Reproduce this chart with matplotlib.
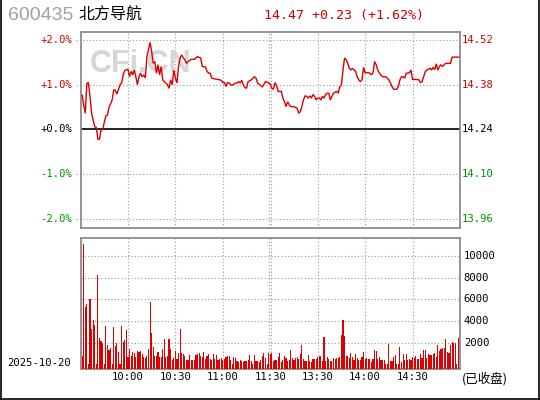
import matplotlib
matplotlib.use("Agg")
import matplotlib.pyplot as plt
from matplotlib.lines import Line2D
import numpy as np

plt.rcParams['font.family'] = ['DejaVu Sans', 'Noto Sans CJK SC']

# ---------------- data ----------------
code = "600435"
name = "北方导航"
prev_close = 14.24
last_price = 14.47
change = 0.23
change_pct = 1.62
date_label = "2025-10-20"
status_label = "(已收盘)"

pct_ticks = [2.0, 1.0, 0.0, -1.0, -2.0]
price_ticks = [14.52, 14.38, 14.24, 14.10, 13.96]
vol_ticks = [10000, 8000, 6000, 4000, 2000]
time_ticks = [30, 60, 90, 120, 150, 180, 210]
time_labels = ["10:00", "10:30", "11:00", "11:30", "13:30", "14:00", "14:30"]

line_minutes = [1, 2, 3, 4, 5, 6, 7, 8, 9, 10, 11, 12, 13, 14, 15, 16, 17, 18, 19, 20,
                21, 22, 23, 24, 25, 26, 27, 28, 30, 31, 32, 33, 34, 35, 36, 37, 38, 39, 40,
                41, 42, 44, 45, 46, 47, 48, 49, 50, 51, 52, 53, 55, 56, 57, 58, 59, 60,
                61, 62, 63, 64, 65, 66, 67, 68, 70, 72, 74, 76, 77, 79, 80, 81, 82, 83,
                85, 87, 89, 90, 91, 92, 93, 94, 95, 96, 98, 99, 100, 101, 102, 103, 104,
                105, 106, 108, 110, 111, 112, 115, 117, 119, 120,
                121, 122, 123, 124, 125, 127, 128, 129, 130, 131, 132, 133, 135, 137, 138,
                139, 140, 141, 142, 143, 144, 145, 146, 147, 148, 149, 150, 151, 152, 153,
                154, 155, 156, 157, 158, 159, 160, 162, 163, 164, 165, 166, 167, 168, 169,
                170, 171, 172, 173, 174, 175, 176, 177, 178, 179, 180, 182, 183, 184, 185,
                186, 187, 188, 189, 190, 191, 193, 194, 195, 196, 197, 198, 200, 201, 202,
                203, 204, 205, 206, 207, 208, 209, 210, 212, 214, 215, 216, 217, 218, 219,
                221, 222, 223, 224, 225, 226, 227, 228, 229, 230, 231, 234, 235, 239]
line_pct = [0.77, 0.55, 0.36, 1.03, 1.05, 0.73, 0.36, 0.21, 0.06, 0.04, -0.22, -0.22, -0.02,
            0.00, 0.15, 0.30, 0.32, 0.49, 0.57, 0.66,
            0.88, 0.88, 0.79, 0.89, 1.00, 1.04, 1.22, 1.32, 1.35, 1.18, 1.30, 1.22, 1.33, 1.18,
            1.00, 1.18, 1.26, 1.18, 1.22,
            1.15, 1.63, 1.95, 1.74, 1.48, 1.52, 1.26, 1.45, 1.22, 1.41, 1.11, 1.07, 1.00, 0.92,
            1.11, 1.00, 1.33, 1.15,
            1.04, 1.41, 1.60, 1.67, 1.60, 1.56, 1.48, 1.52, 1.57, 1.57, 1.63, 1.60, 1.41, 1.40,
            1.30, 1.26, 1.26, 1.15,
            1.13, 1.12, 1.10, 1.05, 1.05, 0.96, 1.05, 1.04, 1.00, 0.99, 1.04, 1.04, 1.07, 1.04,
            1.10, 0.99, 0.94,
            0.92, 1.07, 1.11, 1.18, 1.15, 1.04, 0.95, 1.07, 1.04, 1.02,
            0.92, 0.90, 1.05, 0.98, 0.85, 0.85, 0.70, 0.62, 0.51, 0.62, 0.55, 0.51, 0.51, 0.47,
            0.36,
            0.40, 0.51, 0.66, 0.75, 0.74, 0.70, 0.75, 0.70, 0.78, 0.74, 0.66, 0.70, 0.70, 0.66,
            0.74,
            0.70, 0.78, 0.81, 0.81, 0.66, 0.74, 0.81, 0.85, 0.81, 0.96, 1.00, 1.33, 1.60, 1.56,
            1.48,
            1.37, 1.33, 1.37, 1.33, 1.30, 1.18, 1.11, 1.07, 1.11, 1.39, 1.27, 1.27, 1.26, 1.22,
            1.27,
            1.52, 1.45, 1.33, 1.26, 1.22, 1.18, 1.18, 1.15, 1.11, 1.04, 0.96, 0.90, 0.90, 0.96,
            1.11,
            1.18, 1.18, 1.15, 1.26, 1.26, 1.27, 1.33, 1.12, 1.12, 1.11, 1.05, 1.07, 1.18, 1.29,
            1.33,
            1.37, 1.33, 1.39, 1.34, 1.47, 1.33, 1.41, 1.45, 1.41, 1.45, 1.48, 1.48, 1.62, 1.62]

vol_morning = [770, 11120, 5330, 5570, 0, 6040, 3260, 4100, 3630, 0,
               8250, 2400, 2160, 2000, 0, 3540, 1790, 1320, 1480, 0,
               3450, 1690, 2000, 1170, 0, 3540, 2030, 2250, 3170, 710,
               1450, 770, 1170, 1080, 710, 1230, 1110, 1230, 950, 650,
               620, 740, 1420, 5790, 2930, 1630, 770, 770, 1170, 710,
               710, 1420, 2340, 710, 800, 2340, 1420, 400, 620, 1230,
               490, 1080, 3260, 1080, 950, 800, 400, 400, 860, 400,
               400, 400, 860, 920, 1020, 800, 710, 1170, 490, 800,
               920, 490, 400, 950, 460, 860, 400, 490, 550, 400,
               490, 710, 800, 800, 400, 0, 650, 550, 310, 250,
               400, 310, 250, 310, 310, 400, 860, 310, 0, 860,
               310, 310, 250, 400, 800, 1080, 550, 0, 1080]
vol_afternoon = [920, 1020, 340, 400, 400, 650, 1020, 250, 400, 770, 550, 310, 400,
                 1320, 550, 400, 620, 650, 490, 950, 1790, 490, 310, 310, 860, 310, 250,
                 490, 490, 490,
                 650, 770, 770, 340, 2560, 340, 650, 460, 310, 310, 550, 460, 550,
                 550, 650, 2710, 4100, 2620, 770, 770, 550, 1020, 710, 400, 920, 550, 400,
                 400,
                 650, 1110, 490, 550, 460, 490, 250, 490, 1320, 1230, 490, 710, 400, 400,
                 400,
                 0, 0, 1880, 310, 310, 650, 860, 0, 0, 1570, 250, 950, 400, 950, 400, 490,
                 400, 650, 620, 770, 490, 490,
                 950, 550, 1320, 1320, 620, 950, 860, 860, 920, 1020, 710, 1790, 1230, 1390,
                 1540, 1480, 2340, 1170, 1080, 1790, 2090, 2000, 2000, 0, 2460]

# ---------------- style ----------------
RED = '#DD0000'
TXT_RED = '#D00000'
GREEN = '#009000'
FRAME = '#8c8c8c'
GRID = '#9a9a9a'
W, H = 540, 400

fig = plt.figure(figsize=(W / 100, H / 100), dpi=100)
fig.patch.set_facecolor('white')

def rect(l, t, r, b):
    return [l / W, 1 - b / H, (r - l) / W, (b - t) / H]

ax1 = fig.add_axes(rect(80.5, 31.7, 460, 228))
ax2 = fig.add_axes(rect(80.5, 238, 460, 369.3))

vol_bottom = -453
ax1.set_xlim(0, 240)
ax1.set_ylim(-2.213, 2.19)
ax2.set_xlim(0, 240)
ax2.set_ylim(vol_bottom, 11660)

for ax in (ax1, ax2):
    ax.set_xticks([])
    ax.set_yticks([])
    for s in ax.spines.values():
        s.set_color(FRAME)
        s.set_linewidth(1.3)
    ax.set_facecolor('white')

dot = (0, (1, 2))
vgrid = [t for t in time_ticks if t != 120]
for ax in (ax1, ax2):
    for t in vgrid:
        ax.axvline(t, color=GRID, lw=0.8, ls=dot, zorder=1)
    for t in (119.4, 120.6):
        ax.axvline(t, color=GRID, lw=0.8, ls=dot, zorder=1)

# price panel grid
for p in pct_ticks:
    if p == 0:
        ax1.axhline(0, color='black', lw=1.2, zorder=2)
    else:
        ax1.plot([-0.012, 1], [p, p], transform=ax1.get_yaxis_transform(),
                 color=GRID, lw=0.8, ls=dot, clip_on=False, zorder=1)

# watermark
ax1.text(0.025, 0.835, "CFi.CN", transform=ax1.transAxes, fontsize=22,
         fontweight='bold', family='Liberation Sans', color='#d6d6d6',
         ha='left', va='center', zorder=1.5)

# price line
ax1.plot(line_minutes, line_pct, color=RED, lw=1.0, zorder=3, solid_joinstyle='miter')

def sign_color(v):
    return TXT_RED if v > 0 else (GREEN if v < 0 else 'black')

mono = 'DejaVu Sans Mono'
for p, pr in zip(pct_ticks, price_ticks):
    ax1.text(-0.021, p, f"{p:+.1f}%", transform=ax1.get_yaxis_transform(),
             ha='right', va='center', fontsize=7.6, family=mono, color=sign_color(p))
    ax1.text(1.005, p, f"{pr:.2f}", transform=ax1.get_yaxis_transform(),
             ha='left', va='center', fontsize=7.6, family=mono, color=sign_color(p))

# volume panel
for v in vol_ticks:
    ax2.axhline(v, color=GRID, lw=0.8, ls=dot, zorder=1)
    ax2.text(1.010, v, f"{v}", transform=ax2.get_yaxis_transform(),
             ha='left', va='center', fontsize=7.6, family=mono, color='black')

vol_all = np.array(vol_morning + vol_afternoon, dtype=float)
minutes = np.arange(1, len(vol_all) + 1)
ax2.bar(minutes, vol_all - vol_bottom, bottom=vol_bottom, width=0.72,
        color=RED, linewidth=0, antialiased=False, zorder=3)

for t, lab in zip(time_ticks, time_labels):
    ax2.text(t, -0.058, lab, transform=ax2.get_xaxis_transform(),
             ha='center', va='center', fontsize=7.6, family=mono, color='black')

# header texts
fig.text(8 / W, 1 - 15.5 / H, code, fontsize=14, family='Liberation Sans',
         color='#a0a0a0', ha='left', va='center')
fig.text(78 / W, 1 - 15 / H, name, fontsize=11.5, family=['Noto Sans CJK SC'],
         color='black', ha='left', va='center')
fig.text(264 / W, 1 - 15 / H, f"{last_price:.2f} {change:+.2f} ({change_pct:+.2f}%)",
         fontsize=9.6, family=mono, color=TXT_RED, ha='left', va='center')

fig.text(6.7 / W, 1 - 362.7 / H, date_label, fontsize=7.6, family=mono,
         color='black', ha='left', va='center')
fig.text(461.5 / W, 1 - 379 / H, status_label, fontsize=9,
         family=['Noto Sans CJK SC', 'DejaVu Sans'], color='black', ha='left', va='center')

# outer frame
fig.add_artist(Line2D([0.8 / W, 0.8 / W], [0, 1], color='black', lw=1.2))
fig.add_artist(Line2D([538.5 / W, 538.5 / W], [0, 1], color='black', lw=1.2))
fig.add_artist(Line2D([0, 1], [1 - 398.8 / H, 1 - 398.8 / H], color='black', lw=1.2))

fig.savefig("out.png", dpi=100)
